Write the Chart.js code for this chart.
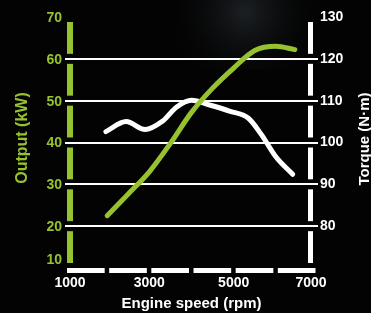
<!DOCTYPE html>
<html>
<head>
<meta charset="utf-8">
<script src="https://cdn.jsdelivr.net/npm/chart.js@4/dist/chart.umd.min.js"></script>
<style>
  html, body { margin: 0; padding: 0; background: #030303; }
  #wrap { width: 371px; height: 313px; }
</style>
</head>
<body>
<div id="wrap"><canvas id="engineChart"></canvas></div>
<script>
// engine speed (rpm) and values
const outputRpm = [2000, 2500, 3000, 3500, 4000, 4500, 5000, 5500, 6000, 6450];
const outputKw = [22.5, 27.7, 33.0, 39.8, 47.2, 53.0, 57.8, 62.0, 63.0, 62.2];

const torqueRpm = [1970, 2450, 2900, 3300, 3650, 4000, 4450, 4900, 5350, 5650, 6000, 6400];
const torqueNm = [102.6, 105.0, 103.1, 105.0, 108.5, 110.1, 108.9, 107.5, 105.8, 102.0, 96.6, 92.4];

const outputTicks = [10, 20, 30, 40, 50, 60, 70];
const torqueTicks = [80, 90, 100, 110, 120, 130];
const rpmTicks = [1000, 3000, 5000, 7000];

const GREEN = '#97c230';
const FONT = 'Liberation Sans';

const deco = {
  id: 'deco',
  beforeDraw(chart) {
    const { ctx, width, height } = chart;
    ctx.save();
    ctx.fillStyle = '#030303';
    ctx.fillRect(0, 0, width, height);
    // faint photo showing through at the top
    const g = ctx.createRadialGradient(245, 12, 4, 245, 12, 85);
    g.addColorStop(0, 'rgba(70,80,90,0.35)');
    g.addColorStop(1, 'rgba(0,0,0,0)');
    ctx.fillStyle = g;
    ctx.fillRect(100, 0, 271, 70);
    ctx.restore();
  },
  beforeDatasetsDraw(chart) {
    const { ctx, chartArea: a, scales: { x, y } } = chart;
    ctx.save();
    const bars = (px, w, color) => {
      ctx.fillStyle = color;
      for (let v = 10; v < 70; v += 10) {
        const t = y.getPixelForValue(v + 10) + 5;
        const b = y.getPixelForValue(v) - 5;
        ctx.fillRect(px, t, w, b - t);
      }
    };
    bars(a.left + 2, 6, GREEN);
    bars(a.right - 10, 5, '#fff');
    ctx.fillStyle = '#fff';
    for (let v = 1000; v < 7000; v += 1000) {
      const l = x.getPixelForValue(v) + 2;
      const r = x.getPixelForValue(v + 1000) - 2.5;
      ctx.fillRect(l, a.bottom, r - l, 5);
    }
    ctx.restore();
  },
  afterDraw(chart) {
    const { ctx, chartArea: a, scales: { x, y } } = chart;
    ctx.save();
    ctx.font = `bold 14px "${FONT}"`;
    ctx.textBaseline = 'middle';

    // left tick labels (bottom one sits a little higher, clear of the axis bar)
    ctx.fillStyle = GREEN;
    ctx.textAlign = 'right';
    outputTicks.forEach((v) => {
      const py = y.getPixelForValue(v) + (v === 10 ? -8 : 1);
      ctx.fillText(String(v), a.left - 3, py);
    });

    // bottom tick labels (end labels pulled inwards)
    ctx.fillStyle = '#fff';
    ctx.textAlign = 'center';
    rpmTicks.forEach((v, i) => {
      let px = x.getPixelForValue(v);
      if (i === 0) px += 5;
      if (i === rpmTicks.length - 1) px -= 7;
      ctx.fillText(String(v), px, a.bottom + 15);
    });

    ctx.textAlign = 'center';
    ctx.textBaseline = 'alphabetic';
    ctx.translate(27, 138);
    ctx.rotate(-Math.PI / 2);
    ctx.font = `bold 16px "${FONT}"`;
    ctx.fillStyle = GREEN;
    ctx.fillText('Output (kW)', 0, 0);
    ctx.setTransform(1, 0, 0, 1, 0, 0);

    ctx.translate(369, 139);
    ctx.rotate(-Math.PI / 2);
    ctx.font = `bold 15px "${FONT}"`;
    ctx.fillStyle = '#fff';
    ctx.fillText('Torque (N·m)', 0, 0);
    ctx.restore();
  }
};

const ctx = document.getElementById('engineChart').getContext('2d');
new Chart(ctx, {
  type: 'line',
  data: {
    datasets: [
      {
        label: 'Output',
        data: outputRpm.map((r, i) => ({ x: r, y: outputKw[i] })),
        borderColor: GREEN,
        borderWidth: 5,
        yAxisID: 'y',
      },
      {
        label: 'Torque',
        data: torqueRpm.map((r, i) => ({ x: r, y: torqueNm[i] })),
        borderColor: '#ffffff',
        borderWidth: 5,
        yAxisID: 'y1',
      },
    ],
  },
  options: {
    responsive: true,
    maintainAspectRatio: false,
    animation: false,
    layout: { padding: { top: 17 } },
    elements: {
      point: { radius: 0 },
      line: { cubicInterpolationMode: 'monotone', borderCapStyle: 'round', borderJoinStyle: 'round' },
    },
    plugins: { legend: { display: false }, tooltip: { enabled: false } },
    scales: {
      x: {
        type: 'linear',
        min: 1000,
        max: 7000,
        afterFit: (s) => { s.height = 45; },
        afterBuildTicks: (s) => { s.ticks = rpmTicks.map((v) => ({ value: v })); },
        grid: { display: false },
        border: { display: false },
        ticks: { display: false },
        title: {
          display: true,
          text: 'Engine speed (rpm)',
          color: '#fff',
          padding: { top: 0, bottom: 0 },
          font: { family: FONT, size: 15, weight: 'bold' },
        },
      },
      y: {
        position: 'left',
        min: 10,
        max: 70,
        afterFit: (s) => { s.width = 65; },
        afterBuildTicks: (s) => { s.ticks = outputTicks.map((v) => ({ value: v })); },
        grid: {
          drawTicks: false,
          lineWidth: 2,
          color: (c) => (c.tick && c.tick.value > 10 && c.tick.value < 70 ? '#fff' : 'rgba(0,0,0,0)'),
        },
        border: { display: false },
        ticks: { display: false },
      },
      y1: {
        position: 'right',
        min: 70,
        max: 130,
        afterFit: (s) => { s.width = 53; },
        afterBuildTicks: (s) => { s.ticks = torqueTicks.map((v) => ({ value: v })); },
        grid: { display: false, drawTicks: false },
        border: { display: false },
        ticks: { color: '#fff', padding: 2, font: { family: FONT, size: 14, weight: 'bold' } },
      },
    },
  },
  plugins: [deco],
});
</script>
</body>
</html>
